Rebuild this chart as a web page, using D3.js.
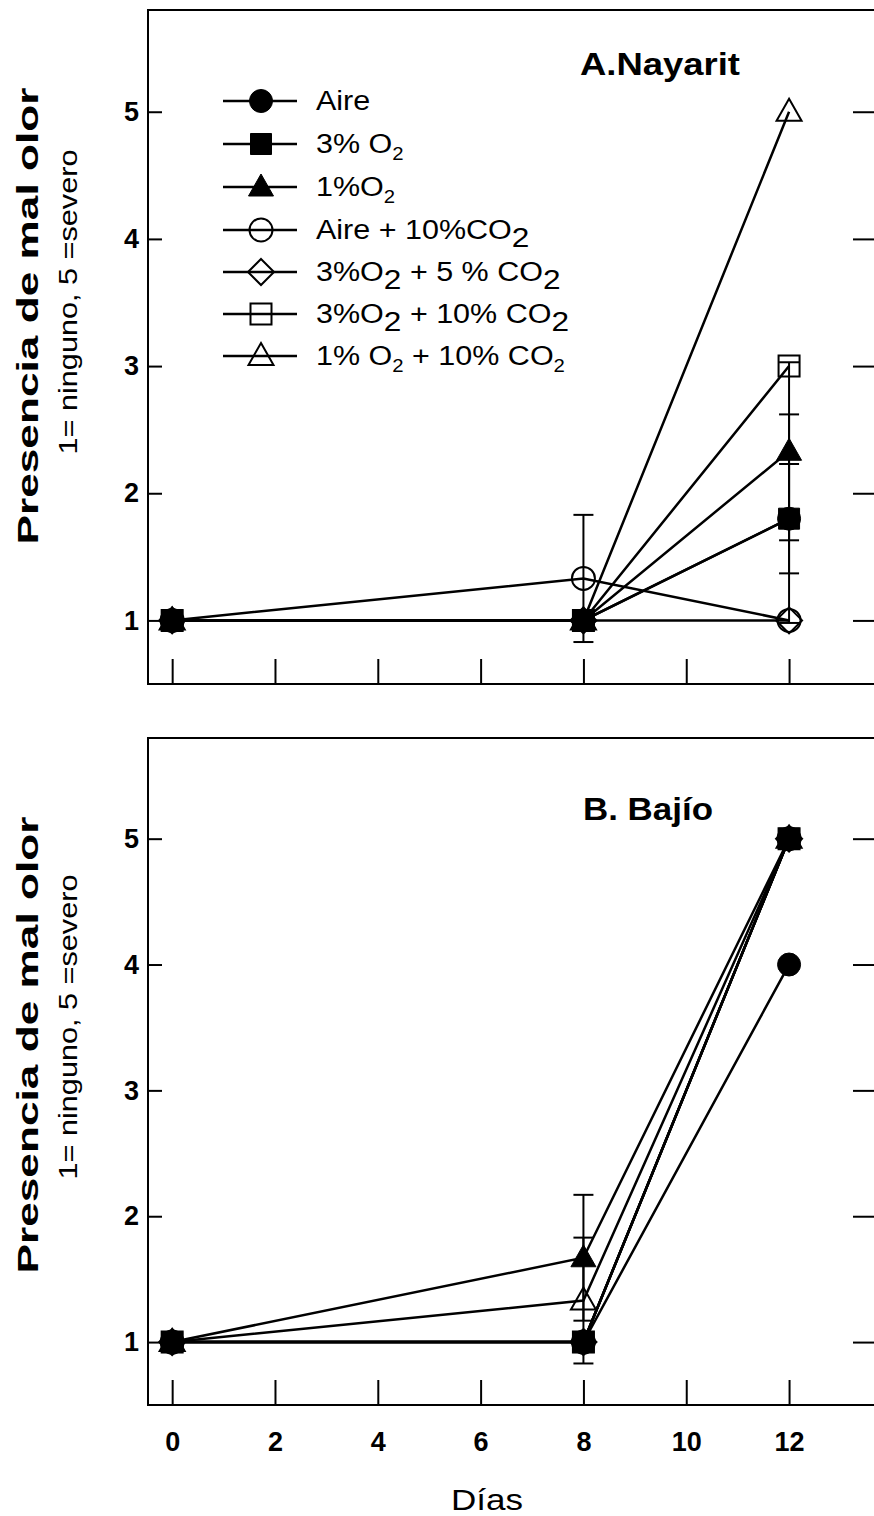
<!DOCTYPE html>
<html>
<head>
<meta charset="utf-8">
<script src="https://cdn.jsdelivr.net/npm/d3@7"></script>
<style>
  body { margin: 0; background: #fff; }
  svg { display: block; }
  text { font-family: "Liberation Sans", Arial, Helvetica, sans-serif; fill: #000; }
</style>
</head>
<body>
<svg id="chart" width="874" height="1516"></svg>
<script>
// Sampling days and odour scores (1 = ninguno, 5 = severo)
const days = [0, 8, 12];
const xTicks = [0, 2, 4, 6, 8, 10, 12];
const yTicks = [1, 2, 3, 4, 5];

const seriesKeys = ["aire", "o2_3", "o2_1", "aire_co2_10", "o2_3_co2_5", "o2_3_co2_10", "o2_1_co2_10"];

// Legend labels: [text, kind] — n = normal, s = small subscript, b = large subscript
const legendLabels = [
  [["Aire", "n"]],
  [["3% O", "n"], ["2", "s"]],
  [["1%O", "n"], ["2", "s"]],
  [["Aire + 10%CO", "n"], ["2", "b"]],
  [["3%O", "n"], ["2", "b"], [" + 5 % CO", "n"], ["2", "b"]],
  [["3%O", "n"], ["2", "b"], [" + 10% CO", "n"], ["2", "b"]],
  [["1% O", "n"], ["2", "s"], [" + 10% CO", "n"], ["2", "s"]]
];

// A. Nayarit
const nayaritValues = [
  [1, 1, 1.8],
  [1, 1, 1.8],
  [1, 1, 2.33],
  [1, 1.33, 1],
  [1, 1, 1],
  [1, 1, 3],
  [1, 1, 5]
];
const nayaritErrors = [
  [0, 0, 0.82],
  [0, 0, 0.43],
  [0, 0, 0.7],
  [0, 0.5, 0],
  [0, 0, 0],
  [0, 0, 0],
  [0, 0, 0]
];

// B. Bajío
const bajioValues = [
  [1, 1, 4],
  [1, 1, 5],
  [1, 1.67, 5],
  [1, 1, 5],
  [1, 1, 5],
  [1, 1, 5],
  [1, 1.33, 5]
];
const bajioErrors = [
  [0, 0, 0],
  [0, 0, 0],
  [0, 0.5, 0],
  [0, 0, 0],
  [0, 0, 0],
  [0, 0, 0],
  [0, 0.5, 0]
];

// Marker shape and fill for each series
const markerShape = ["circle", "square", "triangle", "circle", "diamond", "square", "triangle"];
const markerFilled = [true, true, true, false, false, false, false];

const svg = d3.select("#chart");
const left = 148, right = 878;

const x = d3.scaleLinear().domain([-0.47, 13.73]).range([left, right]);

function markerPath(shape) {
  const p = d3.path();
  if (shape === "circle") {
    p.arc(0, 0, 11.5, 0, 2 * Math.PI);
  } else if (shape === "square") {
    p.rect(-10.5, -10.5, 21, 21);
  } else if (shape === "triangle") {
    p.moveTo(0, -13); p.lineTo(12.5, 9); p.lineTo(-12.5, 9); p.closePath();
  } else if (shape === "diamond") {
    p.moveTo(0, -13); p.lineTo(13, 0); p.lineTo(0, 13); p.lineTo(-13, 0); p.closePath();
  }
  return p.toString();
}

function drawMarker(g, shapeIdx, cx, cy) {
  g.append("path")
    .attr("d", markerPath(markerShape[shapeIdx]))
    .attr("transform", `translate(${cx},${cy})`)
    .attr("fill", markerFilled[shapeIdx] ? "#000" : "none")
    .attr("stroke", "#000")
    .attr("stroke-width", markerFilled[shapeIdx] ? 1 : 2);
}

function drawPanel(cfg) {
  const y = d3.scaleLinear().domain([0.5, 5.8]).range([cfg.bottom, cfg.top]);
  const g = svg.append("g");

  // frame
  g.append("rect")
    .attr("x", left).attr("y", cfg.top)
    .attr("width", right - left).attr("height", cfg.bottom - cfg.top)
    .attr("fill", "none").attr("stroke", "#000").attr("stroke-width", 2);

  // axes with inward ticks
  const yAxisL = g.append("g").attr("transform", `translate(${left},0)`)
    .call(d3.axisLeft(y).tickValues(yTicks).tickSize(-14).tickPadding(9).tickFormat(d3.format("d")));
  const yAxisR = g.append("g").attr("transform", `translate(${right},0)`)
    .call(d3.axisRight(y).tickValues(yTicks).tickSize(-25).tickFormat(""));
  const xAxis = g.append("g").attr("transform", `translate(0,${cfg.bottom})`)
    .call(d3.axisBottom(x).tickValues(xTicks).tickSize(-25).tickPadding(27)
      .tickFormat(cfg.xLabels ? d3.format("d") : ""));
  [yAxisL, yAxisR, xAxis].forEach(a => {
    a.select(".domain").remove();
    a.selectAll(".tick line").attr("stroke", "#000").attr("stroke-width", 2);
    a.selectAll(".tick text").attr("font-size", 27).attr("font-weight", "bold").attr("fill", "#000");
  });

  // y-axis titles
  g.append("text")
    .attr("transform", `translate(38,${cfg.labelMid}) rotate(-90)`)
    .attr("text-anchor", "middle").attr("font-size", 29).attr("font-weight", "bold")
    .attr("textLength", 457).attr("lengthAdjust", "spacingAndGlyphs")
    .text("Presencia de mal olor");
  g.append("text")
    .attr("transform", `translate(77,${cfg.subMid}) rotate(-90)`)
    .attr("text-anchor", "middle").attr("font-size", 26)
    .attr("textLength", 305).attr("lengthAdjust", "spacingAndGlyphs")
    .text("1= ninguno, 5 =severo");

  // panel title
  g.append("text")
    .attr("x", cfg.titleX).attr("y", cfg.titleY)
    .attr("font-size", 32).attr("font-weight", "bold")
    .attr("textLength", cfg.titleLen).attr("lengthAdjust", "spacingAndGlyphs")
    .text(cfg.title);

  const line = d3.line().x((d, i) => x(days[i])).y(d => y(d));

  cfg.values.forEach((vals, s) => {
    const sg = g.append("g").attr("class", "series " + seriesKeys[s]);
    sg.append("path").attr("d", line(vals))
      .attr("fill", "none").attr("stroke", "#000").attr("stroke-width", 2.5);
    // error bars
    vals.forEach((v, i) => {
      const e = cfg.errors[s][i];
      if (e > 0) {
        const cx = x(days[i]);
        sg.append("line").attr("x1", cx).attr("x2", cx)
          .attr("y1", y(v - e)).attr("y2", y(v + e))
          .attr("stroke", "#000").attr("stroke-width", 2);
        [v - e, v + e].forEach(t => {
          sg.append("line").attr("x1", cx - 10).attr("x2", cx + 10)
            .attr("y1", y(t)).attr("y2", y(t))
            .attr("stroke", "#000").attr("stroke-width", 2);
        });
      }
    });
    vals.forEach((v, i) => drawMarker(sg, s, x(days[i]), y(v)));
  });

  return g;
}

drawPanel({
  top: 10, bottom: 684, values: nayaritValues, errors: nayaritErrors,
  title: "A.Nayarit", titleX: 580, titleY: 75, titleLen: 160,
  labelMid: 316, subMid: 302, xLabels: false
});

drawPanel({
  top: 738, bottom: 1405, values: bajioValues, errors: bajioErrors,
  title: "B. Bajío", titleX: 583, titleY: 820, titleLen: 130,
  labelMid: 1045, subMid: 1027, xLabels: true
});

// legend (panel A)
const legend = svg.append("g");
const rowY = [101, 144, 187, 230, 272, 314, 356];
legendLabels.forEach((parts, i) => {
  const cy = rowY[i];
  legend.append("line").attr("x1", 223).attr("x2", 297).attr("y1", cy).attr("y2", cy)
    .attr("stroke", "#000").attr("stroke-width", 2.5);
  drawMarker(legend, i, 261, cy);
  const t = legend.append("text")
    .attr("transform", `translate(316,${cy + 9}) scale(1.13,1)`)
    .attr("font-size", 27);
  let shift = 0;
  parts.forEach(([txt, kind]) => {
    const span = t.append("tspan").text(txt);
    if (kind === "n") {
      span.attr("dy", -shift); shift = 0;
    } else if (kind === "s") {
      span.attr("font-size", 18).attr("dy", 7 - shift); shift = 7;
    } else {
      span.attr("font-size", 28).attr("dy", 8 - shift); shift = 8;
    }
  });
});

// x-axis title
svg.append("text")
  .attr("x", 487).attr("y", 1510)
  .attr("text-anchor", "middle").attr("font-size", 30)
  .attr("textLength", 72).attr("lengthAdjust", "spacingAndGlyphs")
  .text("Días");
</script>
</body>
</html>
